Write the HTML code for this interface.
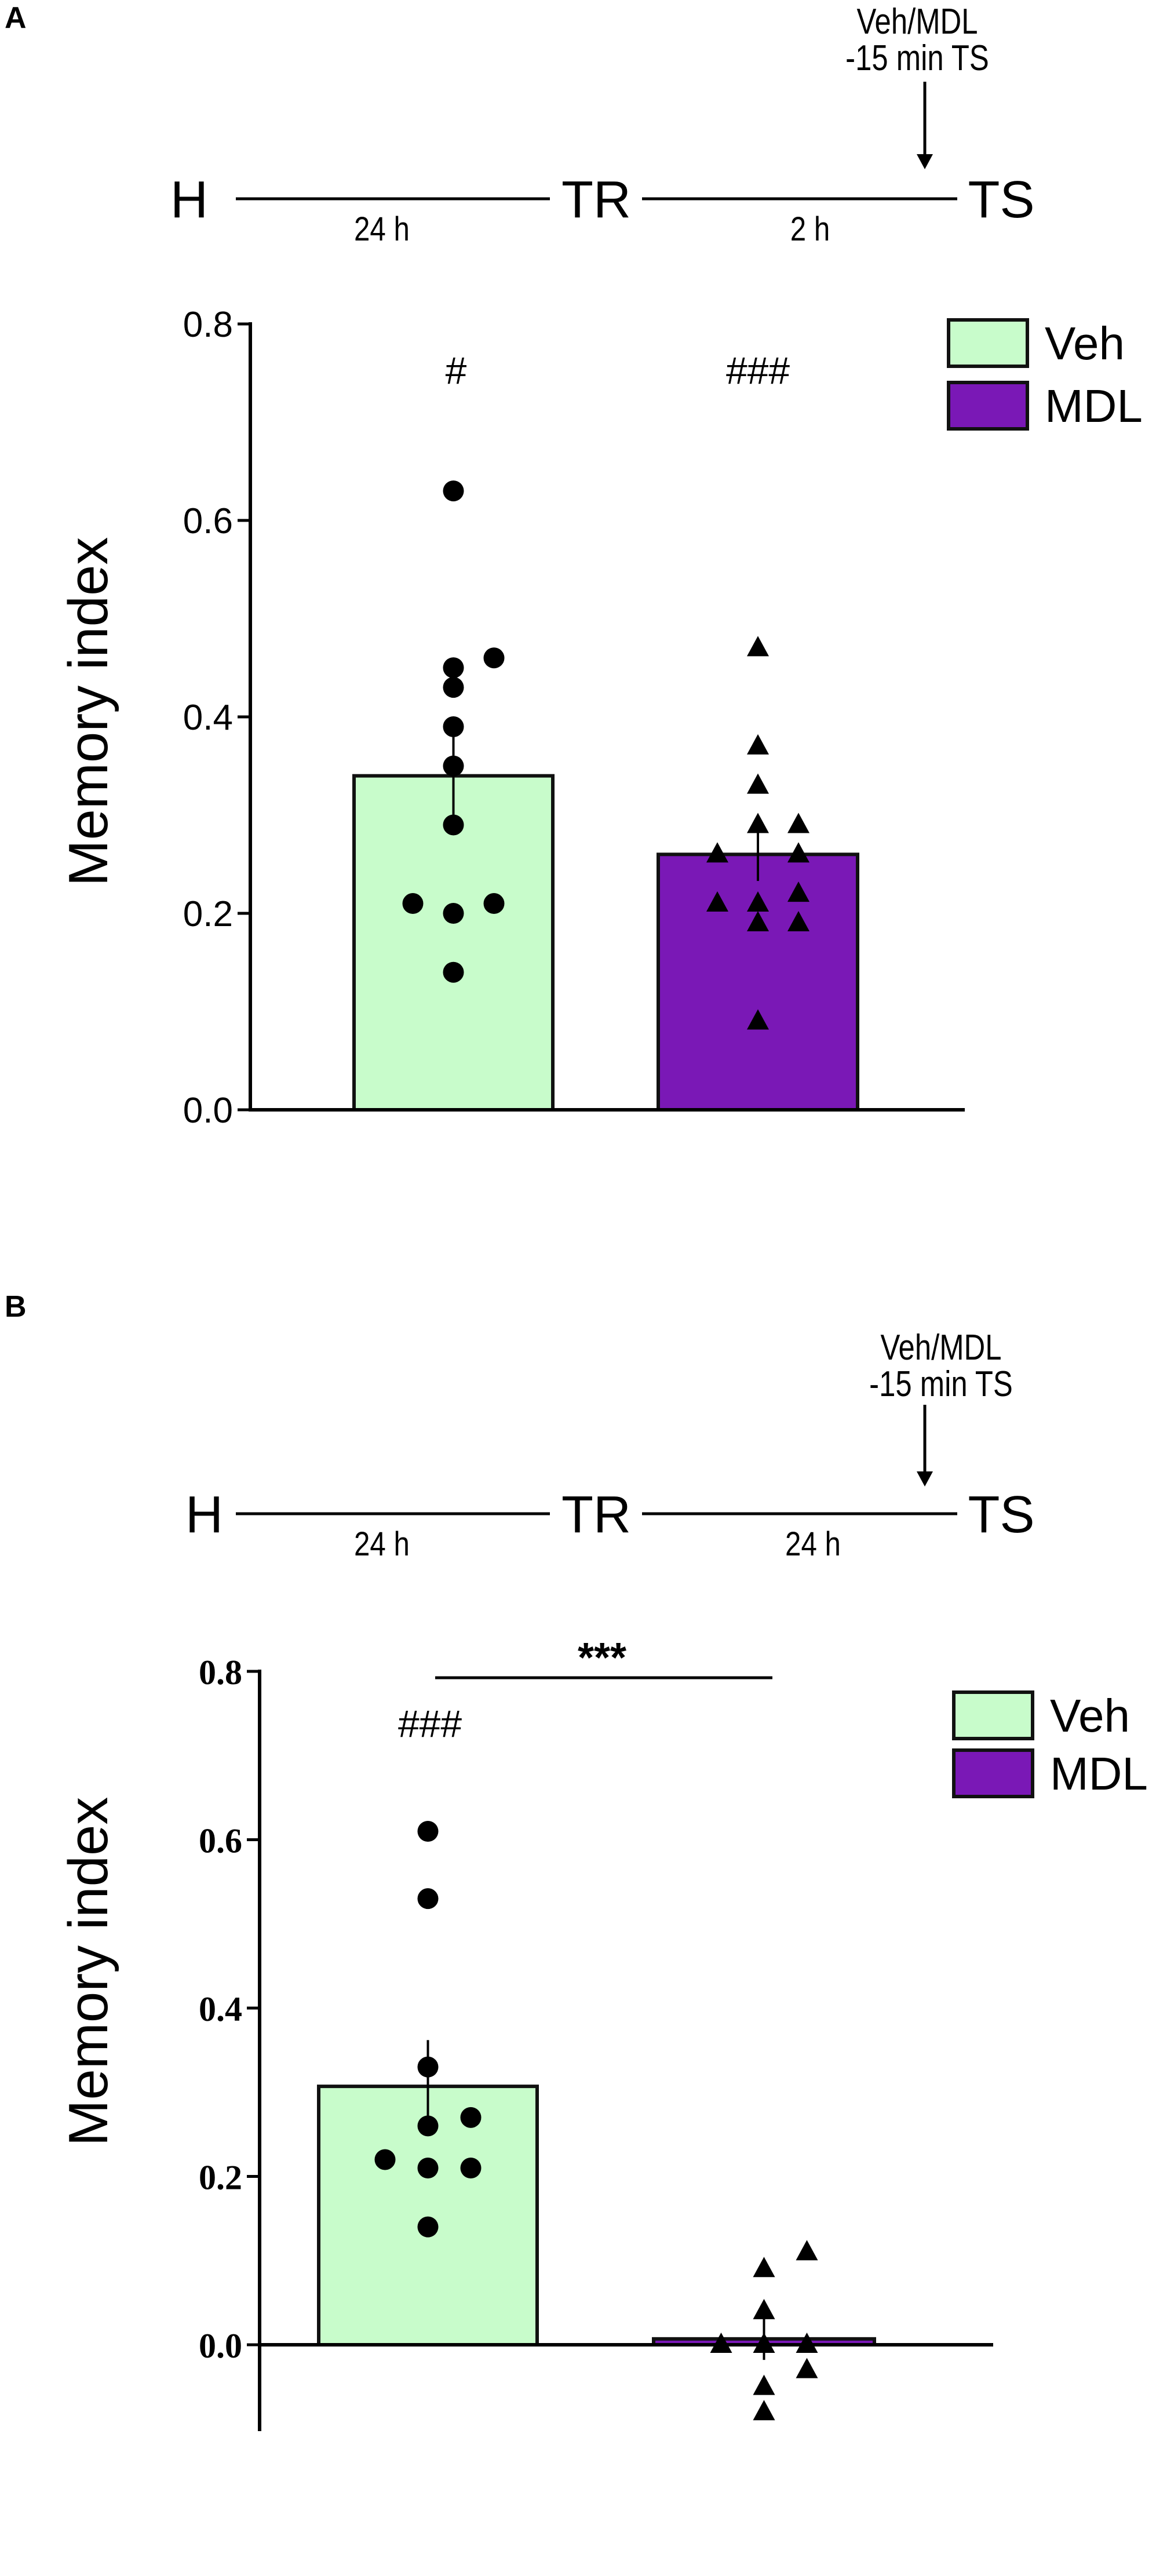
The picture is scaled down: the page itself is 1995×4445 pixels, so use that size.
<!DOCTYPE html>
<html><head><meta charset="utf-8"><style>
html,body{margin:0;padding:0;background:#fff;}
svg{display:block;}
text{font-family:"Liberation Sans",sans-serif;fill:#000;}
</style></head><body>
<svg id="fig" width="1995" height="4445" viewBox="0 0 1995 4445" xmlns="http://www.w3.org/2000/svg">
<g id="gA"></g>
<g id="gB"></g>
</svg>
<script>
const groups = ["Veh","MDL"];
const barA = [0.34, 0.26];
const semA = [0.04, 0.027];
const vehA = [0.63,0.46,0.45,0.43,0.39,0.35,0.29,0.21,0.20,0.21,0.14];
const vehAoff = [0,1,0,0,0,0,0,-1,0,1,0];
const mdlA = [0.47,0.37,0.33,0.29,0.29,0.26,0.26,0.21,0.21,0.22,0.19,0.19,0.09];
const mdlAoff = [0,0,0,0,1,-1,1,-1,0,1,0,1,0];
const barB = [0.307, 0.007];
const semB = [0.055, 0.025];
const vehB = [0.61,0.53,0.33,0.26,0.27,0.22,0.21,0.21,0.14];
const vehBoff = [0,0,0,0,1,-1,0,1,0];
const mdlB = [0.09,0.11,0.04,0.0,0.0,0.0,-0.03,-0.05,-0.08];
const mdlBoff = [0,1,0,-1,0,1,1,0,0];
const ticks = [0,0.2,0.4,0.6,0.8];
const tickLabels = ["0.0","0.2","0.4","0.6","0.8"];

const NS="http://www.w3.org/2000/svg";
function mk(parent,tag,attrs,txt){const e=document.createElementNS(NS,tag);for(const k in attrs)e.setAttribute(k,attrs[k]);if(txt!==undefined)e.textContent=txt;parent.appendChild(e);return e;}

function panel(g,cfg){
  const y=v=>cfg.y0-(v/0.8)*(cfg.y0-cfg.y8);
  // panel letter
  let t=mk(g,'text',{x:8,y:cfg.letterY,'font-size':52,'font-weight':'bold'},cfg.letter);
  
  
  // timeline
  const tl=mk(g,'g',{});
  
  
  const ty=cfg.tlY;
  mk(tl,'text',{x:cfg.hX,y:ty+32,'font-size':90},'H');
  mk(tl,'line',{x1:407,y1:ty,x2:949,y2:ty,stroke:'#000','stroke-width':5});
  mk(tl,'text',{x:1029,y:ty+32,'font-size':90,'text-anchor':'middle'},'TR');
  mk(tl,'line',{x1:1108,y1:ty,x2:1652,y2:ty,stroke:'#000','stroke-width':5});
  mk(tl,'text',{x:1728,y:ty+32,'font-size':90,'text-anchor':'middle'},'TS');
  mk(tl,'text',{x:659,y:ty+72,'font-size':58,'text-anchor':'middle',transform:`translate(${659*0.15} 0) scale(0.85 1)`},cfg.d1);
  mk(tl,'text',{x:cfg.d2x,y:ty+72,'font-size':58,'text-anchor':'middle',transform:`translate(${cfg.d2x*0.15} 0) scale(0.85 1)`},cfg.d2);
  mk(tl,'line',{x1:1596,y1:cfg.arT,x2:1596,y2:cfg.arB-20,stroke:'#000','stroke-width':5});
  mk(tl,'polygon',{points:`1582,${cfg.arB-26} 1610,${cfg.arB-26} 1596,${cfg.arB}`,fill:'#000'});
  mk(tl,'text',{x:cfg.annX,y:cfg.annY,'font-size':62,'text-anchor':'middle',transform:`translate(${cfg.annX*0.18} 0) scale(0.82 1)`},'Veh/MDL');
  mk(tl,'text',{x:cfg.annX,y:cfg.annY+63,'font-size':62,'text-anchor':'middle',transform:`translate(${cfg.annX*0.18} 0) scale(0.82 1)`},'-15 min TS');
  // bars
  const bars=[[cfg.b1L,cfg.b1R,'#c8fccb'],[cfg.b2L,cfg.b2R,'#7a18b6']];
  const vals=cfg.bars, sems=cfg.sems;
  for(let i=0;i<2;i++){
    const yt=y(vals[i]);
    const r=mk(g,'rect',{x:bars[i][0],y:Math.min(yt,y(0)),width:bars[i][1]-bars[i][0],height:Math.max(Math.abs(y(0)-yt),1),fill:bars[i][2],stroke:'#111','stroke-width':6});
    
    
    const cx=(bars[i][0]+bars[i][1])/2;
    const e=mk(g,'line',{x1:cx,y1:y(vals[i]+sems[i]),x2:cx,y2:y(vals[i]-sems[i]),stroke:'#000','stroke-width':4});
    
    
  }
  // axes
  const ax=mk(g,'line',{x1:cfg.axX,y1:cfg.y8-3,x2:cfg.axX,y2:cfg.axBottom,stroke:'#000','stroke-width':6});
  
  
  const xa=mk(g,'line',{x1:cfg.axX,y1:y(0),x2:cfg.xEnd,y2:y(0),stroke:'#000','stroke-width':6});
  
  
  ticks.forEach((v,i)=>{
    mk(g,'line',{x1:cfg.axX-22,y1:y(v),x2:cfg.axX,y2:y(v),stroke:'#000','stroke-width':5});
    const tt=mk(g,'text',{x:cfg.axX-30,y:y(v)+22,'font-size':cfg.tickSize,'text-anchor':'end','font-weight':cfg.tickBold?'bold':'normal',style:cfg.tickBold?'font-family:"Liberation Serif",serif':''},tickLabels[i]);
    
    
  });
  const yt=mk(g,'text',{x:0,y:0,'font-size':96,'text-anchor':'middle',transform:`translate(${cfg.ytX} ${cfg.ytY}) rotate(-90)`},'Memory index');
  
  
  // points
  const c1=(cfg.b1L+cfg.b1R)/2, c2=(cfg.b2L+cfg.b2R)/2;
  cfg.veh.forEach((v,i)=>{
    const c=mk(g,'circle',{cx:c1+cfg.vehOff[i]*cfg.off,cy:y(v),r:18,fill:'#000'});
    
    
  });
  cfg.mdl.forEach((v,i)=>{
    const cx=c2+cfg.mdlOff[i]*cfg.off, cy=y(v);
    const p=mk(g,'polygon',{points:`${cx},${cy-21} ${cx-19},${cy+14} ${cx+19},${cy+14}`,fill:'#000'});
    
    
  });
  // legend
  const lg=mk(g,'g',{});
  
  
  mk(lg,'rect',{x:cfg.lgX,y:cfg.lgY,width:136,height:80,fill:'#c8fccb',stroke:'#111','stroke-width':6});
  mk(lg,'text',{x:cfg.lgX+166,y:cfg.lgY+68,'font-size':80},'Veh');
  mk(lg,'rect',{x:cfg.lgX,y:cfg.lgY+cfg.lgGap,width:136,height:80,fill:'#7a18b6',stroke:'#111','stroke-width':6});
  mk(lg,'text',{x:cfg.lgX+166,y:cfg.lgY+cfg.lgGap+68,'font-size':80},'MDL');
}

panel(document.getElementById('gA'),{letter:'A',letterY:48,tlY:343,hX:294,d1:'24 h',d2:'2 h',d2x:1398,arT:141,arB:292,annX:1583,annY:58,
  y0:1915,y8:559,axX:432,axBottom:1918,xEnd:1665,b1L:611,b1R:954,b2L:1136,b2R:1480,bars:barA,sems:semA,veh:vehA,vehOff:vehAoff,mdl:mdlA,mdlOff:mdlAoff,off:70,
  tickSize:62,tickBold:false,ytX:185,ytY:1228,lgX:1637,lgY:552,lgGap:108});
panel(document.getElementById('gB'),{letter:'B',letterY:2272,tlY:2612,hX:320,d1:'24 h',d2:'24 h',d2x:1403,arT:2424,arB:2565,annX:1624,annY:2346,
  y0:4046,y8:2884,axX:448,axBottom:4195,xEnd:1714,b1L:550,b1R:927,b2L:1128,b2R:1509,bars:barB,sems:semB,veh:vehB,vehOff:vehBoff,mdl:mdlB,mdlOff:mdlBoff,off:74,
  tickSize:60,tickBold:true,ytX:185,ytY:3402,lgX:1646,lgY:2920,lgGap:100});

// annotations
const svg=document.getElementById('fig');
let a=mk(svg,'text',{x:787,y:662,'font-size':66,'text-anchor':'middle'},'#');


a=mk(svg,'text',{x:1308,y:662,'font-size':66,'text-anchor':'middle'},'###');


a=mk(svg,'text',{x:742,y:2997,'font-size':66,'text-anchor':'middle'},'###');


a=mk(svg,'line',{x1:751,y1:2895,x2:1333,y2:2895,stroke:'#000','stroke-width':5});


a=mk(svg,'text',{x:1039,y:2885,'font-size':72,'font-weight':'bold','text-anchor':'middle'},'***');


</script>
</body></html>
